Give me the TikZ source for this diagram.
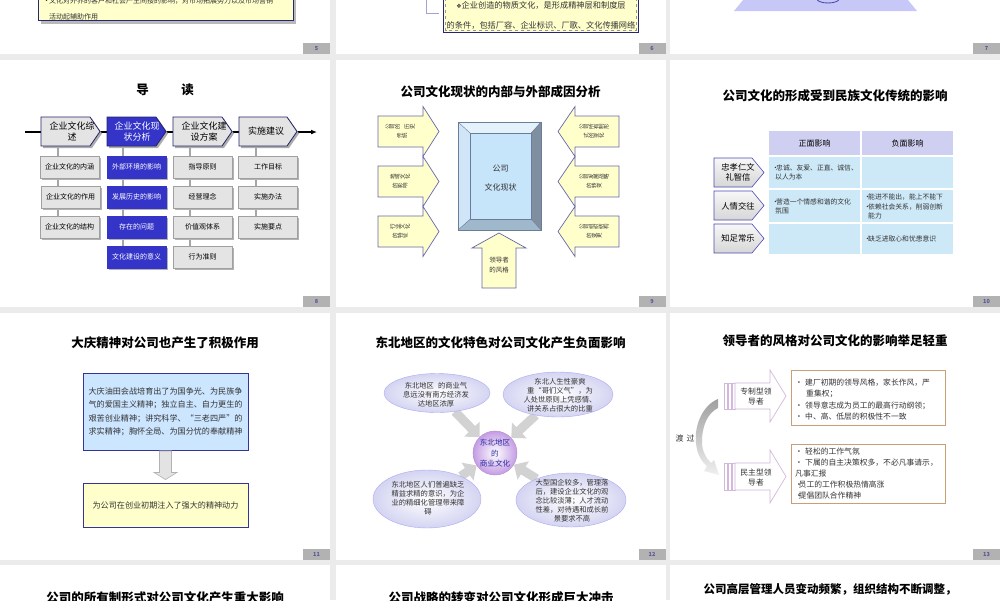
\documentclass[tikz,border=0pt]{standalone}
\usepackage{fontspec}
\setmainfont{Noto Sans CJK SC}
\newfontfamily\dejavu{DejaVu Sans}
\usepackage{graphicx}
\usetikzlibrary{shapes.geometric,shadows,calc,arrows.meta}
\pgfdeclarelayer{back}
\pgfdeclarelayer{mid}
\pgfsetlayers{back,mid,main}
\newcommand\fsz[1]{\fontsize{#1}{#1}\selectfont}
\newcommand\fszb[2]{\fontsize{#1}{#2}\selectfont}
\newcommand\rc[1]{\ifx#1\relax\else\rotatebox{90}{#1}\expandafter\rc\fi}
\newcommand\bl[1]{\makebox[#1][l]{•}}
\definecolor{bgc}{HTML}{EBEBEB}
\definecolor{pgbox}{HTML}{B2B2B2}
\definecolor{pgtxt}{HTML}{55559A}
\definecolor{navy}{HTML}{333399}
\definecolor{royal}{HTML}{3434C8}
\definecolor{lgray}{HTML}{E4E4E4}
\definecolor{mgray}{HTML}{A0A0A0}
\definecolor{lyel}{HTML}{FFFFCC}
\definecolor{lblue}{HTML}{CCE6FF}
\definecolor{cellb}{HTML}{CDE9F8}
\definecolor{cellh}{HTML}{CFCFF2}
\definecolor{arrb}{HTML}{6666AA}
\definecolor{lav}{HTML}{C8C8F8}
\definecolor{pinkl}{HTML}{D4B8DC}
\definecolor{tanc}{HTML}{C8A078}
\definecolor{purp}{HTML}{C49CE4}
\definecolor{ellc}{HTML}{D4D4F2}
\definecolor{cctxt}{HTML}{2A2AA0}
\definecolor{bvtop}{HTML}{E4F2FC}
\definecolor{bvleft}{HTML}{D0E6F8}
\definecolor{bvright}{HTML}{7F8FA0}
\definecolor{bvbot}{HTML}{9FB8CC}
\definecolor{bvface}{HTML}{C6E4FA}
\definecolor{bvline}{HTML}{6A7C98}
\definecolor{txtc}{HTML}{333333}
\begin{document}
\begin{tikzpicture}[x=1pt,y=-1pt,
  ttl/.style={font=\fsz{12.5}\bfseries, inner sep=0},
  pgn/.style={fill=pgbox, minimum width=27, minimum height=11, inner sep=0, font=\fsz{5.5}\bfseries, text=pgtxt},
  txt/.style={inner sep=0, text=txtc},
  hdr/.style={fill=lgray, draw=navy!70!black, line width=0.8},
  hdrb/.style={fill=royal, draw=navy!70!black, line width=0.8},
  hshad/.style={fill=gray!65},
  htxt/.style={inner sep=0, align=center, font=\fszb{9}{11}},
  sbox/.style={fill=lgray, draw=mgray, line width=0.5, minimum width=59, minimum height=22, inner sep=0, font=\fsz{7}, drop shadow={shadow xshift=1.5pt, shadow yshift=-1.5pt, fill=gray!60, opacity=1}},
  sboxb/.style={sbox, fill=royal, draw=royal, text=white},
  conn/.style={draw=gray!70, line width=1.2},
  arr/.style={fill=lyel, draw=arrb, line width=0.7},
  rtxt/.style={inner sep=0, font=\fsz{5.5}, text=txtc},
  cellhd/.style={fill=cellh, minimum width=91, minimum height=24, inner sep=0, font=\fsz{8}},
  cell/.style={fill=cellb, minimum width=91, inner sep=0},
  ctxt/.style={inner sep=0, anchor=west, font=\fsz{6.8}, text=txtc},
  chv/.style={top color=gray!6, bottom color=gray!32, draw=gray!60!blue, line width=0.6},
  chtxt/.style={inner sep=0, align=center, font=\fszb{8.3}{10}},
  ellip/.style={ellipse, inner sep=0, inner color=white, outer color=ellc, draw=ellc!80!blue},
  etxt/.style={inner sep=0, align=center, font=\fszb{7.3}{9}, text=txtc},
  garr/.style={line width=9, draw=gray!35, -{Triangle[length=11,width=21]}},
  oarr/.style={draw=pinkl, line width=0.7, fill=white},
  ltxt/.style={inner sep=0, anchor=west, font=\fsz{7.8}, text=txtc}
]
\useasboundingbox (0,0) rectangle (1000,600);
\clip (0,0) rectangle (1000,600);
\begin{pgfonlayer}{back}
\fill[bgc] (0,0) rectangle (1000,600);
\foreach \xa/\xb in {0/330,336/666,670/1000}{
  \fill[white] (\xa,-300) rectangle (\xb,54);
  \fill[white] (\xa,60) rectangle (\xb,307);
  \fill[white] (\xa,313) rectangle (\xb,559.5);
  \fill[white] (\xa,565) rectangle (\xb,900);
}
\end{pgfonlayer}

% page numbers
\node[pgn] (p5) at (316.5,48.5) {5};
\node[pgn] (p6) at (652,48.5) {6};
\node[pgn] (p7) at (986.5,48.5) {7};
\node[pgn] (p8) at (316.5,301.5) {8};
\node[pgn] (p9) at (652,301.5) {9};
\node[pgn] (p10) at (986.5,301.5) {10};
\node[pgn] (p11) at (316.5,554) {11};
\node[pgn] (p12) at (652,554) {12};
\node[pgn] (p13) at (986.5,554) {13};

% ---------- slide 5 ----------
\fill[gray!55] (41,-20) rectangle (296,24);
\node[fill=lyel, draw=navy!75!black, line width=0.7, minimum width=255, minimum height=45, inner sep=0, anchor=south west] (s5box) at (38,21) {};
\node[txt, anchor=west, font=\fsz{7}] (s5a) at (43,1) {\bl{6pt}文化对外界的客户和社会产生间接的影响，对市场拓展努力以及市场营销};
\node[txt, anchor=west, font=\fsz{7}] (s5b) at (49,17) {活动起辅助作用};

% ---------- slide 6 ----------
\coordinate (s6k1) at (426,-2);
\coordinate (s6k2) at (426,13);
\coordinate (s6k3) at (439,13);
\draw[arrb!60, line width=0.6] (s6k1) -- (s6k2) -- (s6k3);
\node[fill=lyel, draw=navy!75!black, line width=0.7, minimum width=195, minimum height=60, inner sep=0, anchor=south west] (s6box) at (443,33) {};
\draw[dashed, navy!55, line width=0.5] ($(s6box.south west)+(2.5,-2.5)$) rectangle ($(s6box.north east)+(-2.5,2.5)$);
\node[txt, font=\fsz{8.2}] (s6a) at (541,5) {{\dejavu\fsz{6}❖}企业创造的物质文化，是形成精神层和制度层};
\node[txt, font=\fsz{8.2}] (s6b) at (541,25) {的条件，包括厂容、企业标识、厂歌、文化传播网络};

% ---------- slide 7 ----------
\fill[lav] (734,11) -- (917,11) -- (898,-12) -- (753,-12) -- cycle;
\draw[gray!60!blue, line width=0.9] (817,-1) arc[start angle=180, end angle=0, x radius=11, y radius=4];

% ---------- slide 8 ----------
\node[ttl] (s8t) at (165,90) {导\hspace{2.6em}读};
\coordinate (ls) at (25,132);
\coordinate (le) at (317,132);
\draw[line width=1.3, -{Latex[length=6,width=5]}] (ls) -- (le);
\fill[hshad] (43,119) -- (92,119) -- (102,133.5) -- (92,148) -- (43,148) -- cycle;
\draw[hdr] (41,117) -- (90,117) -- (100,131.5) -- (90,146) -- (41,146) -- cycle;
\fill[hshad] (109,119) -- (158,119) -- (168,133.5) -- (158,148) -- (109,148) -- cycle;
\draw[hdrb] (107,117) -- (156,117) -- (166,131.5) -- (156,146) -- (107,146) -- cycle;
\fill[hshad] (175,119) -- (224,119) -- (234,133.5) -- (224,148) -- (175,148) -- cycle;
\draw[hdr] (173,117) -- (222,117) -- (232,131.5) -- (222,146) -- (173,146) -- cycle;
\fill[hshad] (241,119) -- (289,119) -- (299,133.5) -- (289,148) -- (241,148) -- cycle;
\draw[hdr] (239,117) -- (287,117) -- (297,131.5) -- (287,146) -- (239,146) -- cycle;
\node[htxt] (h1) at (72,131.5) {企业文化综\\述};
\node[htxt, text=white] (h2) at (137,131.5) {企业文化现\\状分析};
\node[htxt] (h3) at (204,131.5) {企业文化建\\设方案};
\node[htxt] (h4) at (266,131.5) {实施建议};
\node[sbox] (b11) at (69.5,167) {企业文化的内涵};
\node[sbox] (b12) at (70.5,197) {企业文化的作用};
\node[sbox] (b13) at (69.5,227) {企业文化的结构};
\node[sboxb] (b21) at (136.5,167) {外部环境的影响};
\node[sboxb] (b22) at (136.5,197) {发展历史的影响};
\node[sboxb] (b23) at (136.5,227) {存在的问题};
\node[sboxb] (b24) at (136.5,257) {文化建设的意义};
\node[sbox] (b31) at (202.5,167) {指导原则};
\node[sbox] (b32) at (202.5,197) {经营理念};
\node[sbox] (b33) at (202.5,227) {价值观体系};
\node[sbox] (b34) at (202.5,257) {行为准则};
\node[sbox] (b41) at (268,167) {工作目标};
\node[sbox] (b42) at (268,197) {实施办法};
\node[sbox] (b43) at (268,227) {实施要点};
\coordinate (k1) at (58,146);
\coordinate (k2) at (123,146);
\coordinate (k3) at (190,146);
\coordinate (k4) at (256,146);
\begin{pgfonlayer}{mid}
\draw[conn] (k1) -- (k1 |- b13.north);
\draw[conn] (k2) -- (k2 |- b24.north);
\draw[conn] (k3) -- (k3 |- b34.north);
\draw[conn] (k4) -- (k4 |- b43.north);
\end{pgfonlayer}

% ---------- slide 9 ----------
\node[ttl] (s9t) at (500.5,92) {公司文化现状的内部与外部成因分析};
\foreach \y in {131.5,181.5,231.5}{
  \draw[arr] (378,\y-15.5) -- (423,\y-15.5) -- (423,\y-25) -- (439,\y) -- (423,\y+25) -- (423,\y+15.5) -- (378,\y+15.5) -- cycle;
  \draw[arr] (619,\y-15.5) -- (575,\y-15.5) -- (575,\y-25) -- (558,\y) -- (575,\y+25) -- (575,\y+15.5) -- (619,\y+15.5) -- cycle;
}
\node[rtxt] (l1a) at (400,127) {\rc 公司的\relax\hspace{5pt}\rc 历史\relax};
\node[rtxt] (l1b) at (402,136) {\rc 传统\relax};
\node[rtxt] (l2a) at (400,177) {\rc 地域文化\relax};
\node[rtxt] (l2b) at (400,186) {\rc 的影响\relax};
\node[rtxt] (l3a) at (400,227) {\rc 行业文化\relax};
\node[rtxt] (l3b) at (400,236) {\rc 的特征\relax};
\node[rtxt] (r1a) at (594,127) {\rc 公司所有制形\relax};
\node[rtxt] (r1b) at (594,136) {\rc 式的变化\relax};
\node[rtxt] (r2a) at (594,177) {\rc 公司发展战略\relax};
\node[rtxt] (r2b) at (594,186) {\rc 的转变\relax};
\node[rtxt] (r3a) at (594,227) {\rc 公司组织结构\relax};
\node[rtxt] (r3b) at (594,236) {\rc 的变更\relax};
\fill[bvtop] (458,122) -- (541,122) -- (531,133) -- (470,133) -- cycle;
\fill[bvleft] (458,122) -- (470,133) -- (470,219) -- (458,230) -- cycle;
\fill[bvright] (541,122) -- (541,230) -- (531,219) -- (531,133) -- cycle;
\fill[bvbot] (458,230) -- (470,219) -- (531,219) -- (541,230) -- cycle;
\node[fill=bvface, draw=bvline, line width=0.4, minimum width=61, minimum height=86, inner sep=0, anchor=north west] (face) at (470,133) {};
\draw[bvline, line width=0.6] (458,122) rectangle (541,230);
\draw[bvline, line width=0.4] (458,122) -- (face.north west) (541,122) -- (face.north east) (458,230) -- (face.south west) (541,230) -- (face.south east);
\node[txt, font=\fsz{8}] (s9c1) at (500.5,169) {公司};
\node[txt, font=\fsz{8}] (s9c2) at (500.5,187) {文化现状};
\draw[arr] (482,288) -- (482,248) -- (472,248) -- (499,233) -- (526,248) -- (516,248) -- (516,288) -- cycle;
\node[txt, font=\fszb{6.5}{10}, align=center] (s9b) at (499,265) {领导者\\的风格};

% ---------- slide 10 ----------
\node[ttl] (s10t) at (835,96) {公司文化的形成受到民族文化传统的影响};
\node[cellhd] (th1) at (814.5,143) {正面影响};
\node[cellhd] (th2) at (907.5,143) {负面影响};
\node[cell, minimum height=31] (r11) at (814.5,172.5) {};
\node[cell, minimum height=31] (r12) at (907.5,172.5) {};
\node[cell, minimum height=32] (r21) at (814.5,206) {};
\node[cell, minimum height=32] (r22) at (907.5,206) {};
\node[cell, minimum height=30] (r31) at (814.5,239) {};
\node[cell, minimum height=30] (r32) at (907.5,239) {};
\node[ctxt] (c11a) at (772,168) {\bl{4pt}忠诚、友爱、正直、诚信、};
\node[ctxt] (c11b) at (775,177) {以人为本};
\node[ctxt] (c21a) at (772,202) {\bl{4pt}营造一个情感和谐的文化};
\node[ctxt] (c21b) at (775,211) {氛围};
\node[ctxt] (c22a) at (864,197) {\bl{4pt}能进不能出，能上不能下};
\node[ctxt] (c22b) at (864,207) {\bl{4pt}依赖社会关系，削弱创新};
\node[ctxt] (c22c) at (868,216) {能力};
\node[ctxt] (c32) at (864,239) {\bl{4pt}缺乏进取心和忧患意识};
\shadedraw[chv] (714,158) -- (752,158) -- (764,172.5) -- (752,187) -- (714,187) -- cycle;
\shadedraw[chv] (714,191) -- (752,191) -- (764,205.5) -- (752,220) -- (714,220) -- cycle;
\shadedraw[chv] (714,224) -- (752,224) -- (764,238.5) -- (752,253) -- (714,253) -- cycle;
\node[chtxt] (ch1) at (738,172.5) {忠孝仁文\\礼智信};
\node[chtxt] (ch2) at (738,206) {人情交往};
\node[chtxt] (ch3) at (738,238.5) {知足常乐};

% ---------- slide 11 ----------
\node[ttl] (s11t) at (165,343) {大庆精神对公司也产生了积极作用};
\node[fill=lblue, draw=navy, line width=0.9, minimum width=165, minimum height=77, inner sep=0, align=center, font=\fszb{8.1}{13.5}, text=txtc] (bbox) at (165.5,411.5) {大庆油田会战培育出了为国争光、为民族争\\气的爱国主义精神；独立自主、自力更生的\\艰苦创业精神；讲究科学、“三老四严”的\\求实精神；胸怀全局、为国分忧的奉献精神};
\node[fill=lyel, draw=navy, line width=0.9, minimum width=165, minimum height=44, inner sep=0, font=\fsz{8.1}, text=txtc] (ybox) at (165.5,505) {为公司在创业初期注入了强大的精神动力};
\draw[fill=gray!22, draw=gray!60, line width=0.6] ($(bbox.south)+(-6,0.5)$) -- ($(bbox.south)+(6,0.5)$) -- ($(bbox.south)+(6,22)$) -- ($(bbox.south)+(11.5,22)$) -- ($(ybox.north)+(0,-3)$) -- ($(bbox.south)+(-11.5,22)$) -- ($(bbox.south)+(-6,22)$) -- cycle;

% ---------- slide 12 ----------
\node[ttl] (s12t) at (500.5,343) {东北地区的文化特色对公司文化产生负面影响};
\node[ellip, minimum width=106, minimum height=39] (e1) at (437,393) {};
\node[ellip, minimum width=110, minimum height=45] (e2) at (558,394.5) {};
\node[ellip, minimum width=108, minimum height=58] (e3) at (427,499) {};
\node[ellip, minimum width=110, minimum height=54] (e4) at (571,500) {};
\node[circle, minimum size=44, inner sep=0, inner color=white, outer color=purp, draw=purp!90!black] (cc) at (495,453) {};
\begin{pgfonlayer}{mid}
\draw[garr] (e1) -- (cc);
\draw[garr] (e2) -- (cc);
\draw[garr] (e3) -- (cc);
\draw[garr] (e4) -- (cc);
\end{pgfonlayer}
\node[etxt] (e1t) at (436,395) {东北地区\hspace{4pt}的商业气\\息远没有南方经济发\\达地区浓厚};
\node[etxt] (e2t) at (560,395.5) {东北人生性豪爽\\重“哥们义气”，为\\人处世原则上凭感情、\\讲关系占很大的比重};
\node[etxt] (e3t) at (428,498.5) {东北地区人们普遍缺乏\\精益求精的意识，为企\\业的精细化管理带来障\\碍};
\node[etxt] (e4t) at (572,500.5) {大型国企较多，管理落\\后，建设企业文化的观\\念比较淡薄；人才流动\\性差，对待遇和成长前\\景要求不高};
\node[inner sep=0, align=center, font=\fszb{7.6}{10.5}, text=cctxt] (cct) at (495,453.5) {东北地区\\的\\商业文化};

% ---------- slide 13 ----------
\node[ttl] (s13t) at (835,341) {领导者的风格对公司文化的影响举足轻重};
\draw[oarr] (724,383) rectangle (727,409);
\draw[oarr] (728,383) rectangle (731,409);
\draw[oarr] (732,383) rectangle (735,409);
\draw[oarr] (735,383) -- (770,383) -- (770,370) -- (786,396) -- (770,422) -- (770,409) -- (735,409) -- cycle;
\draw[oarr] (724,463) rectangle (727,490);
\draw[oarr] (728,463) rectangle (731,490);
\draw[oarr] (732,463) rectangle (735,490);
\draw[oarr] (735,463) -- (770,463) -- (770,450) -- (786,476.5) -- (770,503) -- (770,490) -- (735,490) -- cycle;
\node[txt, align=center, font=\fszb{7.8}{10}] (a1t) at (756,397) {专制型领\\导者};
\node[txt, align=center, font=\fszb{7.8}{10}] (a2t) at (756,478) {民主型领\\导者};
\node[draw=tanc, line width=0.8, fill=white, minimum width=154, minimum height=55, inner sep=0, anchor=north west] (cb1) at (791,370) {};
\node[draw=tanc, line width=0.8, fill=white, minimum width=154, minimum height=59, inner sep=0, anchor=north west] (cb2) at (791,444) {};
\node[ltxt] (t1) at (795,383) {\bl{10pt}建厂初期的领导风格，家长作风，严};
\node[ltxt] (t2) at (806,394) {重集权；};
\node[ltxt] (t3) at (795,405.5) {\bl{10pt}领导意志成为员工的最高行动纲领；};
\node[ltxt] (t4) at (795,417) {\bl{10pt}中、高、低层的积极性不一致};
\node[ltxt] (t5) at (795,452) {\bl{10pt}轻松的工作气氛};
\node[ltxt] (t6) at (795,463) {\bl{10pt}下属的自主决策权多，不必凡事请示，};
\node[ltxt] (t7) at (795,474) {凡事汇报};
\node[ltxt] (t8) at (795,485) {\bl{3.5pt}员工的工作积极热情高涨};
\node[ltxt] (t9) at (795,496) {\bl{3.5pt}提倡团队合作精神};
\shade[top color=gray!75, bottom color=gray!12] (718,399) .. controls (703,405) and (694,425) .. (696,443) .. controls (697,455) and (702,462) .. (707,466) -- (704,471) -- (719,475) -- (714,460) -- (711,463) .. controls (706,458) and (702,451) .. (702,442) .. controls (702,425) and (708,413) .. (718,408) -- cycle;
\node[txt, font=\fsz{8}] (dg) at (685,438) {渡\hspace{3pt}过};

% ---------- bottom row ----------
\node[ttl] (s14t) at (165,598) {公司的所有制形式对公司文化产生重大影响};
\node[ttl] (s15t) at (501,598) {公司战略的转变对公司文化形成巨大冲击};
\node[ttl, font=\fsz{11.5}\bfseries] (s16t) at (830,589) {公司高层管理人员变动频繁，组织结构不断调整，};
\end{tikzpicture}
\end{document}
